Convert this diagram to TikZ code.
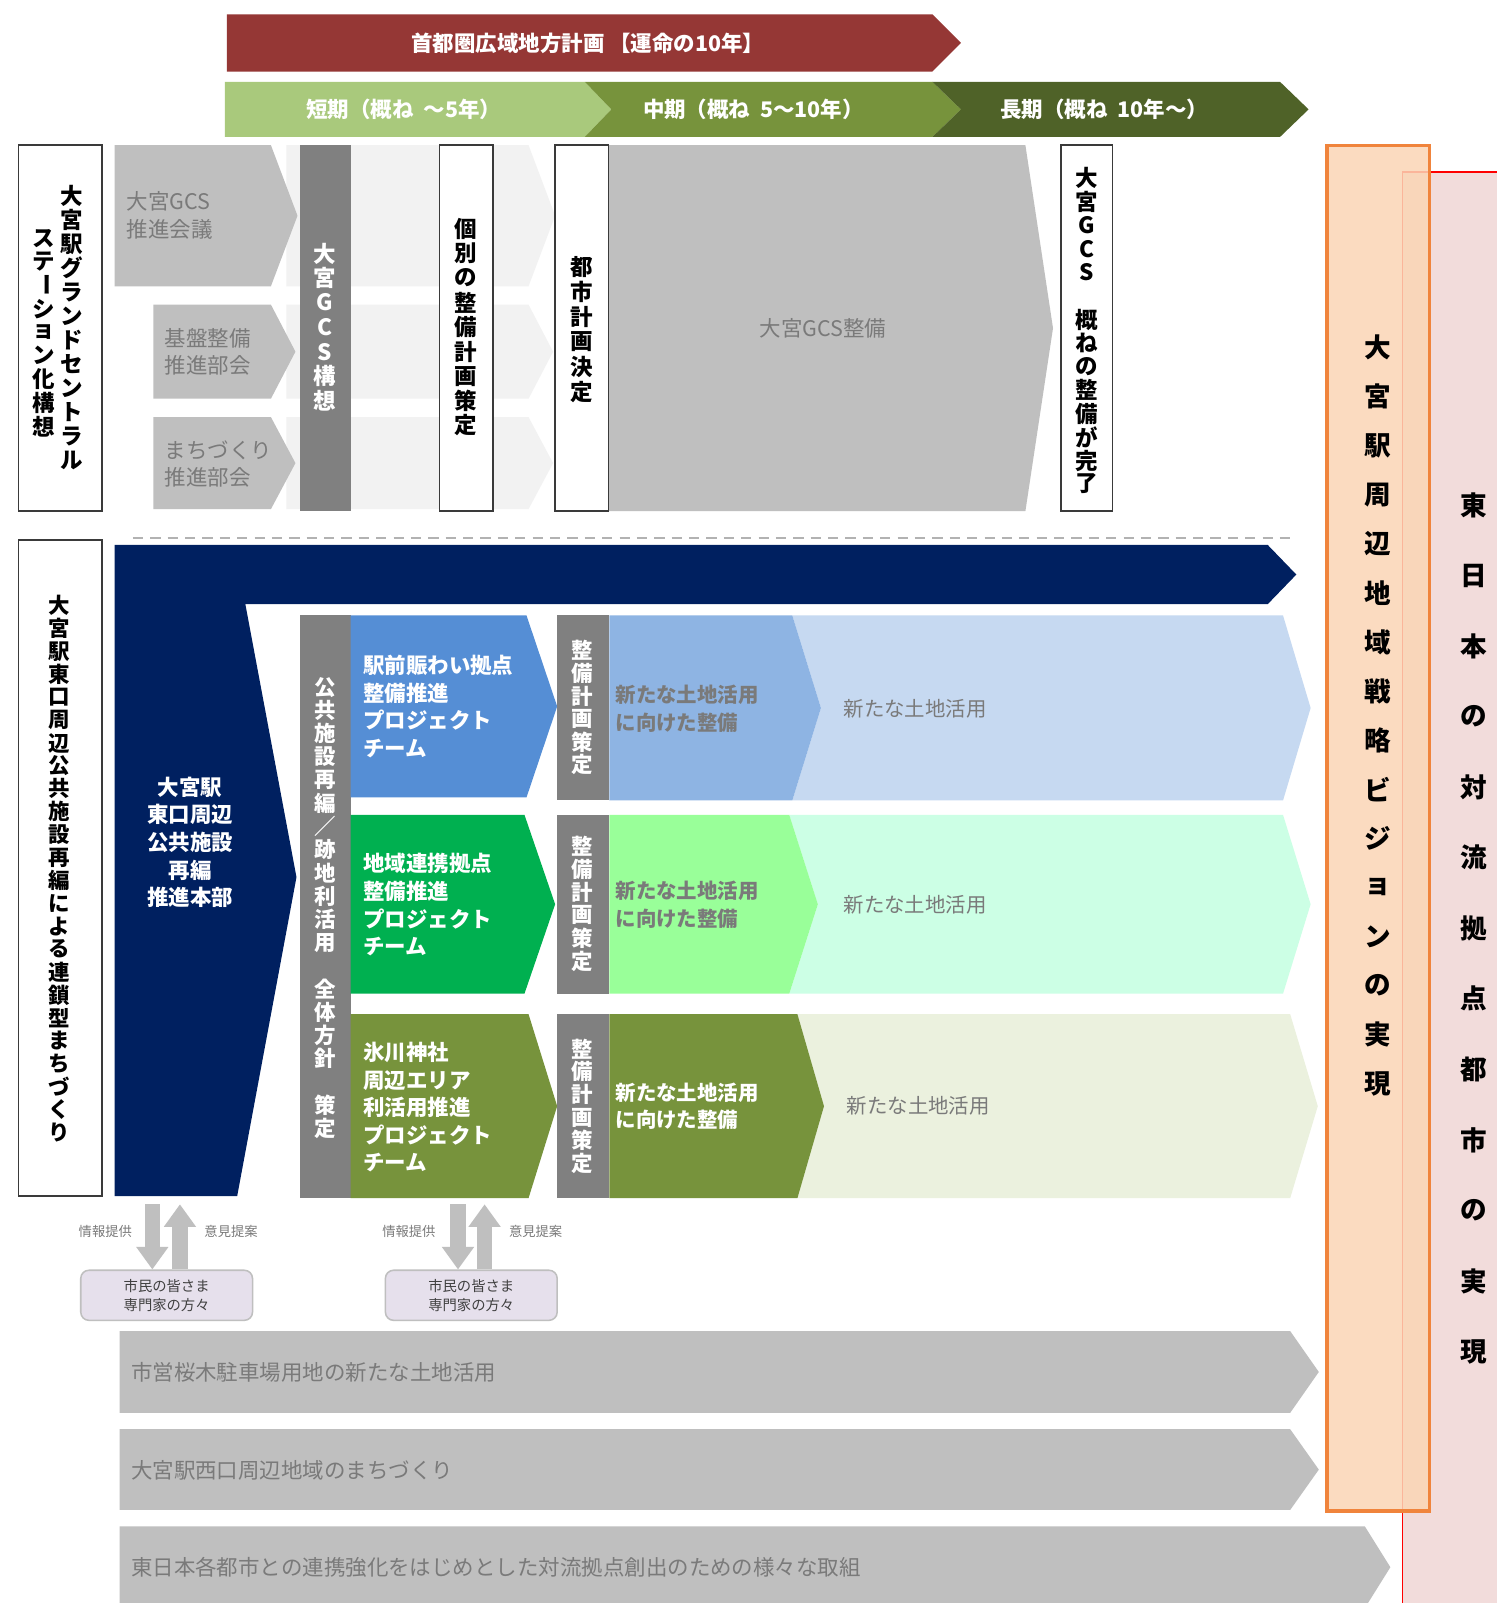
\documentclass[tikz,border=0pt]{standalone}
\usepackage{fontspec}
\setmainfont{Noto Sans CJK JP}
\usepackage{graphicx}
\usetikzlibrary{arrows.meta}
\definecolor{redband}{HTML}{953735}
\definecolor{lgreen}{HTML}{A9C97C}
\definecolor{mgreen}{HTML}{77933C}
\definecolor{dgreen}{HTML}{4F6228}
\definecolor{lgray}{HTML}{BFBFBF}
\definecolor{faint}{HTML}{F2F2F2}
\definecolor{dgray}{HTML}{808080}
\definecolor{navy}{HTML}{002060}
\definecolor{tblue}{HTML}{558ED5}
\definecolor{tgreen}{HTML}{00B050}
\definecolor{olive}{HTML}{77933C}
\definecolor{mblue}{HTML}{8EB4E3}
\definecolor{lblue}{HTML}{C6D9F1}
\definecolor{lgreenb}{HTML}{99FF99}
\definecolor{pgreen}{HTML}{CCFFE5}
\definecolor{polive}{HTML}{EBF1DE}
\definecolor{lav}{HTML}{E6E0EC}
\definecolor{orfill}{HTML}{FBD5B5}
\definecolor{orline}{HTML}{F0843C}
\definecolor{pkfill}{HTML}{F2DCDB}
\definecolor{txtgray}{HTML}{7A7A7A}
\definecolor{boxline}{HTML}{3A3A3A}

\ExplSyntaxOn
\cs_new:Npn \vt_char:n #1 { \str_if_eq:nnTF {#1}{ー}{\rotatebox[origin=c]{-90}{ー}}{#1} }
\NewDocumentCommand\VT{mm}{\vbox{\offinterlineskip\tl_map_inline:nn {#2} {\hbox to 1.3em{\hss\vbox to #1{\vss\hbox{\vt_char:n{##1}}\vss}\hss}}}}
\ExplSyntaxOff

\newcommand\chev[7][0]{\path[fill=#2] (#3,#6) -- (#4,#6) -- (#5,{(#6+#7)/2}) -- (#4,#7) -- (#3,#7) -- ({#3+#1},{(#6+#7)/2}) -- cycle;}

\begin{document}
\begin{tikzpicture}[x=1pt,y=-1pt,
  wbox/.style={draw=boxline,line width=1.5pt,fill=white},
  vbold/.style={inner sep=0pt,font=\fontsize{22pt}{22pt}\selectfont\bfseries},
  vwhite/.style={vbold,text=white},
  bandtxt/.style={inner sep=0pt,text=white,font=\fontsize{21pt}{21pt}\selectfont\bfseries},
  gtxt/.style={inner sep=0pt,text=txtgray,align=left,anchor=west,font=\fontsize{21pt}{27pt}\selectfont},
  teamtxt/.style={inner sep=0pt,text=white,align=left,anchor=west,font=\fontsize{21pt}{27pt}\selectfont\bfseries},
  newtxt/.style={inner sep=0pt,align=left,anchor=west,font=\fontsize{20pt}{27pt}\selectfont\bfseries},
  smalltxt/.style={inner sep=0pt,text=txtgray,font=\fontsize{13pt}{13pt}\selectfont},
  citbox/.style={draw=lgray,line width=1.5pt,fill=lav,rounded corners=8pt,minimum width=168pt,minimum height=49pt,align=center,inner sep=0pt,text=black!75,font=\fontsize{14pt}{19pt}\selectfont},
  bigarrow/.style={draw=lgray,line width=15pt,-{Triangle[width=30pt,length=22pt]}},
  bigvt/.style={inner sep=0pt,font=\fontsize{26pt}{26pt}\selectfont\bfseries}
]
\useasboundingbox (0,0) rectangle (1464,1568);
\fill[white] (0,0) rectangle (1464,1568);

% ---------- timeline bands
\chev{redband}{222}{912}{940}{14}{70}
\chev{lgreen}{220}{572}{598}{80}{134}
\chev[26]{mgreen}{572}{912}{940}{80}{134}
\chev[28]{dgreen}{912}{1252}{1280}{80}{134}
\node[bandtxt] (plan) at (575,42) {首都圏広域地方計画 【運命の10年】};
\node[bandtxt] (short) at (395,107) {短期（概ね\ \ ～5年）};
\node[bandtxt] (mid) at (737,107) {中期（概ね\ \ 5～10年）};
\node[bandtxt] (long) at (1080,107) {長期（概ね\ \ 10年～）};

% ---------- right side frames
\fill[pkfill] (1372,168) rectangle (1500,1600);
\draw[red,line width=1.5pt] (1372,1600) -- (1372,168) -- (1500,168);
\path[fill=orfill,fill opacity=0.85,draw=orline,line width=3pt] (1298,142) rectangle (1398,1478);
\node[bigvt] (vision) at (1348,700) {\VT{48pt}{大宮駅周辺地域戦略ビジョンの実現}};
\node[bigvt] (east) at (1442,908) {\VT{69pt}{東日本の対流拠点都市の実現}};

% ---------- upper section
\chev{faint}{280}{517}{543}{142}{280}
\chev{faint}{280}{517}{541}{298}{390}
\chev{faint}{280}{517}{541}{408}{498}
\chev{lgray}{112}{265}{291}{142}{280}
\chev{lgray}{150}{265}{289}{298}{390}
\chev{lgray}{150}{265}{289}{408}{498}
\node[gtxt] (gcsc) at (124,211) {大宮GCS\\推進会議};
\node[gtxt] (kiban) at (161,344) {基盤整備\\推進部会};
\node[gtxt] (machi) at (161,454) {まちづくり\\推進部会};

\draw[wbox] (18,142) rectangle (100,500);
\node[vbold] (gc1) at (70,321) {\VT{23.5pt}{大宮駅グランドセントラル}};
\node[vbold] (gc2) at (43,325) {\VT{23pt}{ステーション化構想}};

\fill[dgray] (293,142) rectangle (343,500);
\node[vwhite] (gcsk) at (318,320) {\VT{24pt}{大宮GCS構想}};

\draw[wbox] (430,142) rectangle (482,500);
\node[vbold] (kobetsu) at (456,320) {\VT{24pt}{個別の整備計画策定}};

\chev{lgray}{595}{1003}{1030}{142}{500}
\node[gtxt,anchor=center] (gcsseibi) at (805,321) {大宮GCS整備};
\draw[wbox] (543,142) rectangle (595,500);
\node[vbold] (toshi) at (569,322) {\VT{24.5pt}{都市計画決定}};

\draw[wbox] (1038,142) rectangle (1088,500);
\node[vbold] (kanryo) at (1063,324) {\VT{23pt}{大宮GCS　概ねの整備が完了}};

\draw[lgray!80!gray,line width=2pt,dash pattern=on 10pt off 7pt] (130,526) -- (1268,526);

% ---------- lower section
\draw[wbox] (18,528) rectangle (100,1170);
\node[vbold,font=\fontsize{21pt}{21pt}\selectfont\bfseries] (renkan) at (58,850) {\VT{22.4pt}{大宮駅東口周辺公共施設再編による連鎖型まちづくり}};

\path[fill=navy] (112,533) -- (1240,533) -- (1268,562) -- (1240,591) -- (240,591) -- (290,858) -- (232,1170) -- (112,1170) -- cycle;
\node[teamtxt,anchor=center,align=center] (honbu) at (186,824) {大宮駅\\東口周辺\\公共施設\\再編\\推進本部};

\fill[dgray] (293,602) rectangle (343,1172);
\node[vwhite,font=\fontsize{21pt}{21pt}\selectfont\bfseries] (zentai) at (318,888) {\VT{22.7pt}{公共施設再編／跡地利活用　全体方針　策定}};

\chev{tblue}{343}{515}{545}{602}{780}
\chev{tgreen}{343}{513}{543}{797}{972}
\chev{olive}{343}{517}{545}{992}{1172}
\node[teamtxt] (pt1) at (355,691) {駅前賑わい拠点\\整備推進\\プロジェクト\\チーム};
\node[teamtxt] (pt2) at (355,885) {地域連携拠点\\整備推進\\プロジェクト\\チーム};
\node[teamtxt] (pt3) at (355,1083) {氷川神社\\周辺エリア\\利活用推進\\プロジェクト\\チーム};

\chev[28]{lblue}{775}{1255}{1282}{602}{783}
\chev{mblue}{596}{775}{803}{602}{783}
\chev[28]{pgreen}{772}{1255}{1282}{797}{972}
\chev{lgreenb}{596}{772}{800}{797}{972}
\chev[26]{polive}{780}{1262}{1289}{992}{1172}
\chev{olive}{596}{780}{806}{992}{1172}

\fill[dgray] (545,602) rectangle (596,783);
\fill[dgray] (545,797) rectangle (596,972);
\fill[dgray] (545,992) rectangle (596,1172);
\node[vwhite,font=\fontsize{21pt}{21pt}\selectfont\bfseries] (sb1) at (570,692) {\VT{22.4pt}{整備計画策定}};
\node[vwhite,font=\fontsize{21pt}{21pt}\selectfont\bfseries] (sb2) at (570,884) {\VT{22.4pt}{整備計画策定}};
\node[vwhite,font=\fontsize{21pt}{21pt}\selectfont\bfseries] (sb3) at (570,1082) {\VT{22.4pt}{整備計画策定}};

\node[newtxt,text=txtgray] (nt1) at (602,693) {新たな土地活用\\に向けた整備};
\node[newtxt,text=txtgray] (nt2) at (602,885) {新たな土地活用\\に向けた整備};
\node[newtxt,text=white] (nt3) at (602,1082) {新たな土地活用\\に向けた整備};
\node[gtxt,font=\fontsize{20pt}{20pt}\selectfont] (nl1) at (825,693) {新たな土地活用};
\node[gtxt,font=\fontsize{20pt}{20pt}\selectfont] (nl2) at (825,885) {新たな土地活用};
\node[gtxt,font=\fontsize{20pt}{20pt}\selectfont] (nl3) at (828,1082) {新たな土地活用};

% ---------- citizens
\node[citbox] (cit1) at (163,1267) {市民の皆さま\\専門家の方々};
\node[citbox] (cit2) at (461,1267) {市民の皆さま\\専門家の方々};
\coordinate (d1) at (149,1178);
\coordinate (u1) at (176,1178);
\coordinate (d2) at (448,1178);
\coordinate (u2) at (474,1178);
\draw[bigarrow] (d1) -- (d1 |- cit1.north);
\draw[bigarrow] (u1 |- cit1.north) -- (u1);
\draw[bigarrow] (d2) -- (d2 |- cit2.north);
\draw[bigarrow] (u2 |- cit2.north) -- (u2);
\node[smalltxt] (info1) at (103,1205) {情報提供};
\node[smalltxt] (op1) at (226,1205) {意見提案};
\node[smalltxt] (info2) at (400,1205) {情報提供};
\node[smalltxt] (op2) at (524,1205) {意見提案};

% ---------- bottom bars
\chev{lgray}{117}{1262}{1290}{1302}{1382}
\chev{lgray}{117}{1262}{1290}{1398}{1477}
\chev{lgray}{117}{1335}{1360}{1493}{1573}
\node[gtxt] (b1) at (128,1342) {市営桜木駐車場用地の新たな土地活用};
\node[gtxt] (b2) at (128,1438) {大宮駅西口周辺地域のまちづくり};
\node[gtxt] (b3) at (128,1533) {東日本各都市との連携強化をはじめとした対流拠点創出のための様々な取組};
\end{tikzpicture}
\end{document}
